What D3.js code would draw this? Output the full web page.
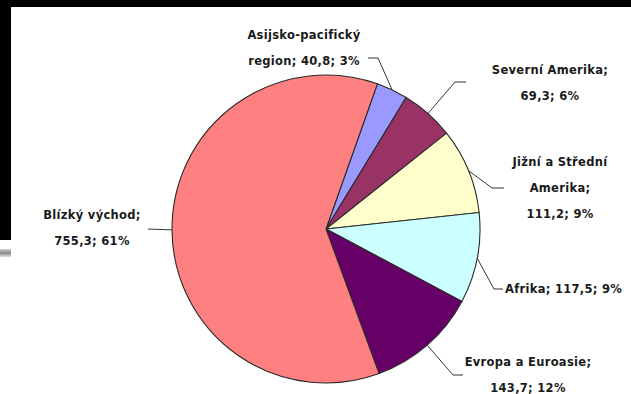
<!DOCTYPE html>
<html>
<head>
<meta charset="utf-8">
<script src="https://cdn.jsdelivr.net/npm/d3@7"></script>
<style>
  html, body { margin: 0; background: #fff; overflow: hidden; }
  svg { display: block; }
</style>
</head>
<body>
<svg width="631" height="394"></svg>
<script>
// data
var regions = ["Asijsko-pacifický region", "Severní Amerika", "Jižní a Střední Amerika", "Afrika", "Evropa a Euroasie", "Blízký východ"];
var values = [40.8, 69.3, 111.2, 117.5, 143.7, 755.3];
var percents = ["3%", "6%", "9%", "9%", "12%", "61%"];
var colors = ["#9999ff", "#993366", "#ffffcc", "#ccffff", "#660066", "#ff8080"];
// label text split into lines as in the picture
var labelLines = [
  ["Asijsko-pacifický", "region; 40,8; 3%"],
  ["Severní Amerika;", "69,3; 6%"],
  ["Jižní a Střední", "Amerika;", "111,2; 9%"],
  ["Afrika; 117,5; 9%"],
  ["Evropa a Euroasie;", "143,7; 12%"],
  ["Blízký východ;", "755,3; 61%"]
];

var svg = d3.select("svg");
var width = +svg.attr("width");
var height = +svg.attr("height");

// slide frame bits (black border top/left + small grey shadow)
var defs = svg.append("defs");
var grad = defs.append("linearGradient").attr("id", "shade").attr("x1", 0).attr("x2", 0).attr("y1", 0).attr("y2", 1);
grad.append("stop").attr("offset", "0%").attr("stop-color", "#d0d0d0");
grad.append("stop").attr("offset", "50%").attr("stop-color", "#8a8a8a");
grad.append("stop").attr("offset", "100%").attr("stop-color", "#e0e0e0");

svg.append("rect").attr("x", 0).attr("y", 0).attr("width", width).attr("height", height).attr("fill", "#fff");
svg.append("rect").attr("x", 0).attr("y", 0).attr("width", width).attr("height", 7).attr("fill", "#000");
svg.append("rect").attr("x", 0).attr("y", 0).attr("width", 11).attr("height", 240).attr("fill", "#000");
svg.append("rect").attr("x", 0).attr("y", 249).attr("width", 11).attr("height", 8).attr("fill", "url(#shade)");

var cx = 326, cy = 229, r = 154;
var startAngle = 19.5 * Math.PI / 180;

var pie = d3.pie()
    .sort(null)
    .value(function(d) { return d; })
    .startAngle(startAngle)
    .endAngle(startAngle + 2 * Math.PI);

var arc = d3.arc().innerRadius(0).outerRadius(r);

var g = svg.append("g").attr("transform", "translate(" + cx + "," + cy + ")");
var arcs = pie(values);

g.selectAll("path.slice")
  .data(arcs)
  .enter().append("path")
  .attr("class", "slice")
  .attr("d", arc)
  .attr("fill", function(d, i) { return colors[i]; })
  .attr("stroke", "#2a2a2a")
  .attr("stroke-width", 1.1);

// label placement (centre x, y of first line) and leader elbow points, per slice
var labelPos = [
  {x: 304, y: 35, anchor: "middle"},
  {x: 550, y: 70, anchor: "middle"},
  {x: 560, y: 162, anchor: "middle"},
  {x: 505, y: 289, anchor: "start"},
  {x: 528, y: 362, anchor: "middle"},
  {x: 92, y: 215, anchor: "middle"}
];
var elbows = [
  [[378, 58], [368, 58]],
  [[455, 82], [466, 82]],
  [[492, 188], [504, 188]],
  [[494, 289], [503, 289]],
  [[453, 375], [463, 375]],
  [[148, 229]]
];

var lineGen = d3.line();
arcs.forEach(function(d, i) {
  var mid = (d.startAngle + d.endAngle) / 2;
  var p = [cx + r * Math.sin(mid), cy - r * Math.cos(mid)];
  svg.append("path")
    .attr("d", lineGen([p].concat(elbows[i])))
    .attr("fill", "none")
    .attr("stroke", "#333")
    .attr("stroke-width", 1);
});

var labels = svg.selectAll("text.lbl")
  .data(labelLines)
  .enter().append("text")
  .attr("class", "lbl")
  .attr("font-family", "DejaVu Sans")
  .attr("font-weight", "bold")
  .attr("font-size", "11.5px")
  .attr("letter-spacing", "0.3px")
  .attr("fill", "#1a1a1a")
  .attr("text-anchor", function(d, i) { return labelPos[i].anchor; });

labels.each(function(lines, i) {
  var t = d3.select(this);
  lines.forEach(function(s, k) {
    t.append("tspan")
      .attr("x", labelPos[i].x)
      .attr("y", labelPos[i].y + k * 26)
      .attr("dy", "0.35em")
      .text(s);
  });
});
</script>
</body>
</html>
